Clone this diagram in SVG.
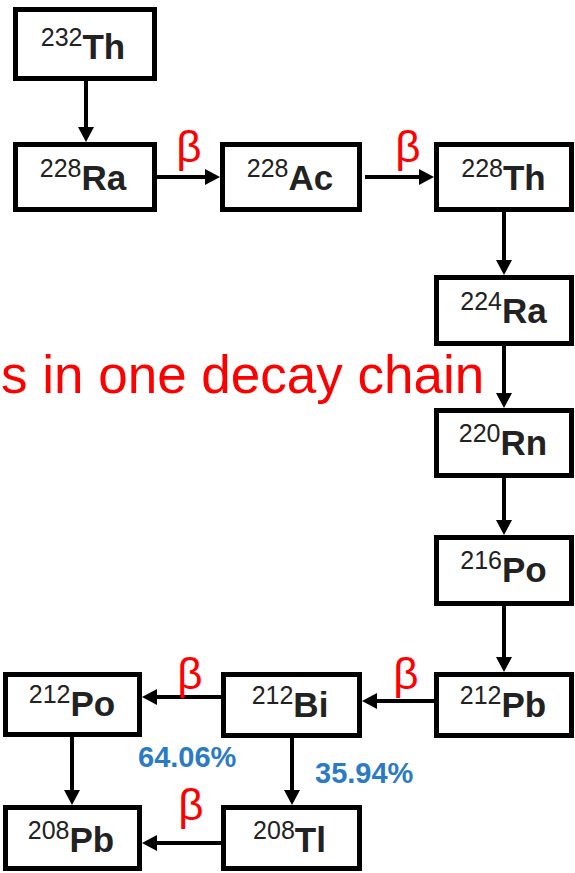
<svg xmlns="http://www.w3.org/2000/svg" width="575" height="873" viewBox="0 0 575 873">
  <style>
    .box { fill: #ffffff; stroke: #000000; stroke-width: 5; }
    .lbl { font-family: "Liberation Sans", Arial, sans-serif; fill: #222222; text-anchor: middle; }
    .mass { font-size: 25px; }
    .sym { font-size: 35px; font-weight: bold; }
    .edge { stroke: #000000; stroke-width: 4; fill: none; marker-end: url(#head); }
    .beta { font-family: "Liberation Sans", Arial, sans-serif; font-size: 44px; fill: #ff0000; text-anchor: middle; }
    .pct { font-family: "Liberation Sans", Arial, sans-serif; font-size: 29px; font-weight: bold; fill: #2b7bc4; }
    .title { font-family: "Liberation Sans", Arial, sans-serif; font-size: 53px; fill: #ff0000; }
  </style>
  <defs>
    <marker id="head" markerUnits="userSpaceOnUse" markerWidth="16" markerHeight="16" refX="5" refY="8" orient="auto">
      <path d="M0,0 L15,8 L0,16 Z" fill="#000000"/>
    </marker>
  </defs>

  <rect width="575" height="873" fill="#ffffff"/>

  <!-- connectors -->
  <g id="connectors">
    <line class="edge" x1="86" y1="81" x2="86" y2="132"/>
    <line class="edge" x1="157" y1="177" x2="210" y2="177"/>
    <line class="edge" x1="365" y1="177" x2="424" y2="177"/>
    <line class="edge" x1="504" y1="212" x2="504" y2="265"/>
    <line class="edge" x1="504" y1="346" x2="504" y2="398"/>
    <line class="edge" x1="504" y1="478" x2="504" y2="525"/>
    <line class="edge" x1="504" y1="606" x2="504" y2="662"/>
    <line class="edge" x1="434" y1="701" x2="372" y2="701"/>
    <line class="edge" x1="221" y1="697" x2="152" y2="697"/>
    <line class="edge" x1="72" y1="737" x2="72" y2="795"/>
    <line class="edge" x1="292" y1="738" x2="292" y2="795"/>
    <line class="edge" x1="221" y1="843" x2="152" y2="843"/>

    <text class="beta" x="189" y="162">β</text>
    <text class="beta" x="408" y="162">β</text>
    <text class="beta" x="406" y="689">β</text>
    <text class="beta" x="190" y="689">β</text>
    <text class="beta" x="191" y="820">β</text>

    <text class="pct" x="138" y="767">64.06%</text>
    <text class="pct" x="315" y="783">35.94%</text>
  </g>

  <!-- nodes -->
  <g id="th232">
    <rect class="box" x="15.5" y="9.5" width="139" height="69"/>
    <text class="lbl" x="83" y="59"><tspan class="mass" dy="-13">232</tspan><tspan class="sym" dy="13">Th</tspan></text>
  </g>
  <g id="ra228">
    <rect class="box" x="15.5" y="144.5" width="139" height="65"/>
    <text class="lbl" x="83" y="190"><tspan class="mass" dy="-13">228</tspan><tspan class="sym" dy="13">Ra</tspan></text>
  </g>
  <g id="ac228">
    <rect class="box" x="222.5" y="144.5" width="137" height="65"/>
    <text class="lbl" x="290" y="190"><tspan class="mass" dy="-13">228</tspan><tspan class="sym" dy="13">Ac</tspan></text>
  </g>
  <g id="th228">
    <rect class="box" x="436.5" y="144.5" width="135" height="65"/>
    <text class="lbl" x="503.5" y="190"><tspan class="mass" dy="-13">228</tspan><tspan class="sym" dy="13">Th</tspan></text>
  </g>
  <g id="ra224">
    <rect class="box" x="436.5" y="277.5" width="135" height="66"/>
    <text class="lbl" x="503.5" y="323"><tspan class="mass" dy="-13">224</tspan><tspan class="sym" dy="13">Ra</tspan></text>
  </g>
  <g id="rn220">
    <rect class="box" x="436.5" y="410.5" width="135" height="65"/>
    <text class="lbl" x="503" y="455"><tspan class="mass" dy="-13">220</tspan><tspan class="sym" dy="13">Rn</tspan></text>
  </g>
  <g id="po216">
    <rect class="box" x="436.5" y="537.5" width="135" height="66"/>
    <text class="lbl" x="503.5" y="582"><tspan class="mass" dy="-13">216</tspan><tspan class="sym" dy="13">Po</tspan></text>
  </g>
  <g id="pb212">
    <rect class="box" x="436.5" y="674.5" width="135" height="61"/>
    <text class="lbl" x="503" y="717"><tspan class="mass" dy="-13">212</tspan><tspan class="sym" dy="13">Pb</tspan></text>
  </g>
  <g id="bi212">
    <rect class="box" x="223.5" y="674.5" width="136" height="61"/>
    <text class="lbl" x="290" y="717"><tspan class="mass" dy="-13">212</tspan><tspan class="sym" dy="13">Bi</tspan></text>
  </g>
  <g id="po212">
    <rect class="box" x="5.5" y="674.5" width="134" height="60"/>
    <text class="lbl" x="72" y="716"><tspan class="mass" dy="-13">212</tspan><tspan class="sym" dy="13">Po</tspan></text>
  </g>
  <g id="pb208">
    <rect class="box" x="5.5" y="807.5" width="134" height="61"/>
    <text class="lbl" x="71" y="852"><tspan class="mass" dy="-13">208</tspan><tspan class="sym" dy="13">Pb</tspan></text>
  </g>
  <g id="tl208">
    <rect class="box" x="223.5" y="807.5" width="136" height="61"/>
    <text class="lbl" x="289.5" y="852"><tspan class="mass" dy="-13">208</tspan><tspan class="sym" dy="13">Tl</tspan></text>
  </g>

  <!-- caption -->
  <text class="title" x="1" y="393">s in one decay chain</text>
</svg>
